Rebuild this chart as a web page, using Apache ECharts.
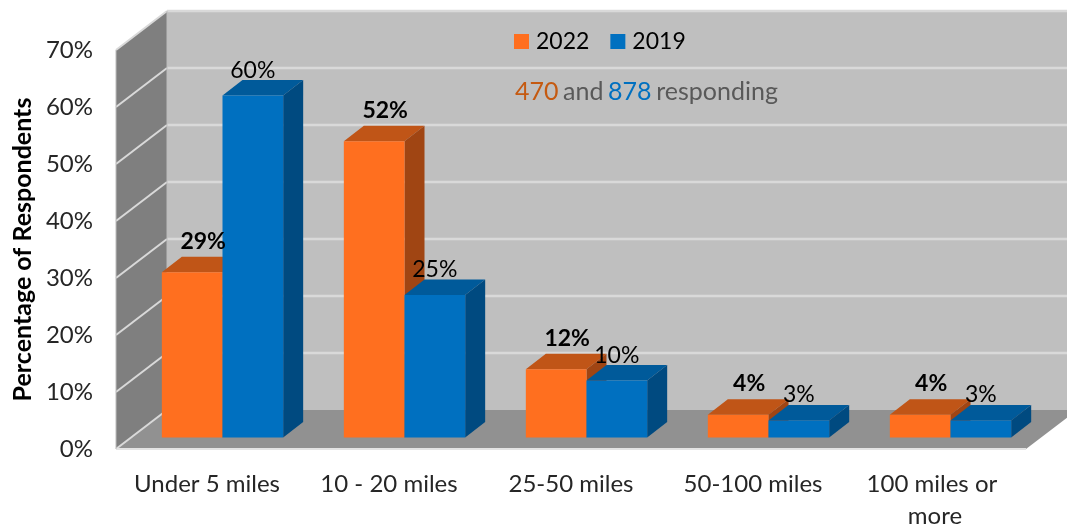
<!DOCTYPE html>
<html><head><meta charset="utf-8">
<style>html,body{margin:0;padding:0;background:#fff}#c{width:1067px;height:525px}</style>
<script src="https://cdn.jsdelivr.net/npm/echarts@6/dist/echarts.min.js"></script>
</head><body><div id="c"></div>
<script>
const categories = ['Under 5 miles','10 - 20 miles','25-50 miles','50-100 miles','100 miles or more'];
const values2022 = [29, 52, 12, 4, 4];
const values2019 = [60, 25, 10, 3, 3];
const wallTicks = [0,10,20,30,40,50,60,70];
const FONT = 'Lato, sans-serif';
const DEPTH_X = 51, DEPTH_Y = 39;
const BAR_DX = 15.5, BAR_DY = 11.4, BAR_DEPTH_X = 20, BAR_DEPTH_Y = 15.5;

const chart = echarts.init(document.getElementById('c'), null, {renderer:'canvas'});

function poly(points, fill, z2){
  return {type:'polygon', z2:z2||0, shape:{points}, style:{fill, stroke:null}, silent:true};
}
function wallItem(params, api){
  const cs = params.coordSys;
  const x0 = cs.x, x1 = cs.x + cs.width, yb = cs.y + cs.height;
  const y = api.coord([0, api.value(0)])[1];
  const children = [];
  const grid = '#D9D9D9';
  if (params.dataIndex === 0) {
    const top = cs.y;
    children.push(poly([[x0+DEPTH_X,top-DEPTH_Y],[x1+DEPTH_X,top-DEPTH_Y],[x1+DEPTH_X,yb-DEPTH_Y],[x0+DEPTH_X,yb-DEPTH_Y]],'#BFBFBF',0));
    children.push(poly([[x0,top],[x0+DEPTH_X,top-DEPTH_Y],[x0+DEPTH_X,yb-DEPTH_Y],[x0,yb]],'#7F7F7F',1));
    children.push(poly([[x0,yb],[x0+DEPTH_X,yb-DEPTH_Y],[x1+DEPTH_X,yb-DEPTH_Y],[x1,yb]],'#919191',1));
    children.push({type:'line',z2:3,shape:{x1:x0,y1:yb,x2:x1,y2:yb},style:{stroke:'#E3E3E3',lineWidth:2}});
    children.push({type:'line',z2:3,shape:{x1:x0,y1:top,x2:x0,y2:yb},style:{stroke:'#BDBDBD',lineWidth:1}});
    children.push({type:'line',z2:3,shape:{x1:x0+DEPTH_X,y1:top-DEPTH_Y,x2:x0+DEPTH_X,y2:yb-DEPTH_Y},style:{stroke:'#BDBDBD',lineWidth:1}});
  }
  children.push({type:'line',z2:2,shape:{x1:x0,y1:y,x2:x0+DEPTH_X,y2:y-DEPTH_Y},style:{stroke:grid,lineWidth:2}});
  if (params.dataIndex !== 0) {
    children.push({type:'line',z2:2,shape:{x1:x0+DEPTH_X,y1:y-DEPTH_Y,x2:x1+DEPTH_X,y2:y-DEPTH_Y},style:{stroke:grid,lineWidth:2.4}});
  }
  return {type:'group',children};
}
function barRenderer(cfg){
  return function(params, api){
    const idx = api.value(0), val = api.value(1);
    const top = api.coord([idx, val]), base = api.coord([idx, 0]);
    const band = api.size([1,0])[0], w = band/3;
    const left = top[0] + BAR_DX + cfg.side*w;
    const right = left + w;
    const yt = top[1] - BAR_DY, yb = base[1] - BAR_DY;
    const dx = BAR_DEPTH_X, dy = BAR_DEPTH_Y;
    return {type:'group',children:[
      poly([[left,yt],[left+dx,yt-dy],[right+dx,yt-dy],[right,yt]],cfg.top,cfg.z),
      poly([[right,yt],[right+dx,yt-dy],[right+dx,yb-dy],[right,yb]],cfg.sideFace,cfg.z),
      poly([[left,yt],[right,yt],[right,yb],[left,yb]],cfg.front,cfg.z),
      {type:'text',z2:20,silent:true,style:{text:val+'%',x:(left+right)/2+cfg.labelDx,y:yt-cfg.labelDy,
        fill:'#000',font:cfg.font,textAlign:'center',textVerticalAlign:'middle'}}
    ]};
  };
}
const cfg2022 = {side:-1,top:'#C05517',sideFace:'#A04513',front:'#FF6F1F',z:5,labelDx:11,labelDy:31,font:'bold 23px '+FONT};
const cfg2019 = {side:0,top:'#005A9A',sideFace:'#004A80',front:'#0070C0',z:6,labelDx:0,labelDy:25.5,font:'23px '+FONT};

chart.setOption({
  animation:false,
  textStyle:{fontFamily:FONT},
  grid:{left:116,top:50,width:910,height:399,containLabel:false,outerBoundsMode:'none'},
  legend:{left:514,top:30,padding:0,itemWidth:15,itemHeight:15,itemGap:21,icon:'rect',
    data:['2022','2019'],textStyle:{fontSize:23,color:'#000',fontFamily:FONT,padding:[0,0,0,2]}},
  title:{left:515,top:79,padding:0,
    text:'{a|470} {b|and} {c|878} {b|responding}',
    textStyle:{fontWeight:'normal',rich:{
      a:{fontSize:25,fontWeight:'normal',color:'#C55A11',fontFamily:FONT},
      b:{fontSize:25,fontWeight:'normal',color:'#595959',fontFamily:FONT},
      c:{fontSize:25,fontWeight:'normal',color:'#0070C0',fontFamily:FONT}}}},
  xAxis:{type:'category',data:categories,
    axisLine:{show:false},axisTick:{show:false},splitLine:{show:false},
    axisLabel:{interval:0,margin:19,fontSize:24,color:'#262626',fontFamily:FONT,width:175,overflow:'break',lineHeight:32}},
  yAxis:{type:'value',min:0,max:70,interval:10,
    name:'Percentage of Respondents',nameLocation:'middle',nameGap:81,
    nameTextStyle:{fontSize:25,fontWeight:'bold',color:'#000',fontFamily:FONT},
    axisLine:{show:false},axisTick:{show:false},splitLine:{show:false},
    axisLabel:{margin:23,fontSize:24,color:'#262626',fontFamily:FONT,formatter:'{value}%',padding:[2,0,0,0]}},
  series:[
    {type:'custom',name:'walls',z:1,silent:true,coordinateSystem:'cartesian2d',renderItem:wallItem,
      data:wallTicks,encode:{y:0}},
    {type:'custom',name:'2022',z:2,coordinateSystem:'cartesian2d',itemStyle:{color:'#FF6F1F'},
      renderItem:barRenderer(cfg2022),encode:{x:0,y:1},
      data:values2022.map((v,i)=>[i,v])},
    {type:'custom',name:'2019',z:2,coordinateSystem:'cartesian2d',itemStyle:{color:'#0070C0'},
      renderItem:barRenderer(cfg2019),encode:{x:0,y:1},
      data:values2019.map((v,i)=>[i,v])}
  ]
});
</script></body></html>
